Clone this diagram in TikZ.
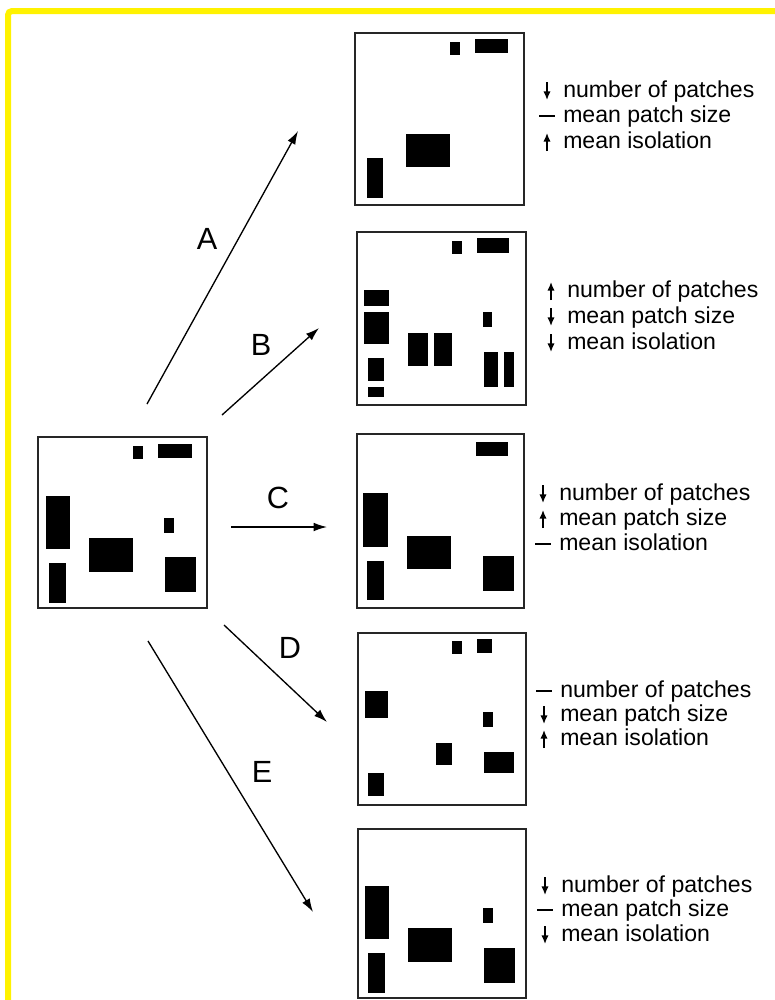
\documentclass[tikz,border=0pt]{standalone}
\usepackage{fontspec}
\setmainfont{Liberation Sans}
\usetikzlibrary{arrows.meta,fit,calc}
\newcommand\mkdown[1]{\draw[indarrow] ($(#1.base west)+(-16,-15)$) -- ($(#1.base west)+(-16,3)$);}
\newcommand\mkup[1]{\draw[indarrow] ($(#1.base west)+(-16,3)$) -- ($(#1.base west)+(-16,-15)$);}
\newcommand\mkdash[1]{\draw[inddash] ($(#1.base west)+(-24,-6)$) -- ($(#1.base west)+(-8,-6)$);}
\begin{document}
\begin{tikzpicture}[x=0.75pt,y=-0.75pt,
  panel/.style={draw=black!85, line width=1.2pt, inner sep=0pt},
  conn/.style={line width=1pt, -{Latex[length=10pt,width=6.5pt]}},
  lbl/.style={font=\fontsize{23}{27}\selectfont, inner sep=0pt},
  stat/.style={font=\fontsize{17.3}{20}\selectfont, anchor=base west, inner sep=0pt},
  indarrow/.style={line width=1.1pt, -{Latex[length=6.5pt,width=5.5pt]}},
  inddash/.style={line width=1.1pt}]
\useasboundingbox (0,0) rectangle (775,1000);
\fill[white] (0,0) rectangle (775,1000);
\begin{scope}
\clip (0,0) rectangle (775,1000);
\draw[yellow, line width=4.5pt, rounded corners=3pt] (8,1010) -- (8,11) -- (790,11);
\end{scope}

% panels
\node[panel, fit={(38,437) (207,608)}] (orig) {};
\node[panel, fit={(355,33) (524,205)}] (pA) {};
\node[panel, fit={(357,232) (526,405)}] (pB) {};
\node[panel, fit={(357,434) (524,608)}] (pC) {};
\node[panel, fit={(358,633) (526,805)}] (pD) {};
\node[panel, fit={(358,829) (526,998)}] (pE) {};

% patches
\foreach \a/\b/\c/\d in {133/446/143/459, 158/444/192/458, 46/496/70/549, 164/518/174/533, 89/538/133/572, 49/563/66/603, 165/557/196/592,
  450/42/460/55, 475/39/508/53, 406/134/450/167, 367/158/383/198,
  452/241/462/254, 477/238/509/253, 364/290/389/306, 364/312/389/344, 368/358/384/381, 368/387/384/397, 408/333/428/366, 434/333/452/366, 483/312/492/327, 484/352/498/387, 504/352/514/387,
  476/442/508/456, 363/493/388/547, 407/536/451/569, 367/561/384/600, 483/556/514/591,
  452/641/462/654, 477/639/492/653, 365/691/388/718, 483/712/493/727, 436/743/452/765, 484/752/514/773, 368/773/384/796,
  365/886/389/939, 483/908/493/923, 408/928/452/962, 368/953/385/993, 484/948/515/983}
  \fill[black] (\a,\b) rectangle (\c,\d);

% connectors
\coordinate (sA) at (147,404); \coordinate (eA) at (298,131);
\coordinate (sB) at (222,415); \coordinate (eB) at (319,328);
\coordinate (sC) at (231,527); \coordinate (eC) at (327,527);
\coordinate (sD) at (224,625); \coordinate (eD) at (327,722);
\coordinate (sE) at (148,641); \coordinate (eE) at (313,912);
\draw[conn] (sA) -- (eA);
\draw[conn] (sB) -- (eB);
\draw[conn] (sC) -- (eC);
\draw[conn] (sD) -- (eD);
\draw[conn] (sE) -- (eE);

\node[lbl] (lA) at (207,239) {A};
\node[lbl] (lB) at (261,345) {B};
\node[lbl] (lC) at (278,498) {C};
\node[lbl] (lD) at (290,648) {D};
\node[lbl] (lE) at (262,772) {E};

% statistics
\node[stat] (a1) at (563,97) {number of patches};
\node[stat] (a2) at (563,122) {mean patch size};
\node[stat] (a3) at (563,148) {mean isolation};
\mkdown{a1} \mkdash{a2} \mkup{a3}

\node[stat] (b1) at (567,297) {number of patches};
\node[stat] (b2) at (567,323) {mean patch size};
\node[stat] (b3) at (567,349) {mean isolation};
\mkup{b1} \mkdown{b2} \mkdown{b3}

\node[stat] (c1) at (559,500) {number of patches};
\node[stat] (c2) at (559,525) {mean patch size};
\node[stat] (c3) at (559,550) {mean isolation};
\mkdown{c1} \mkup{c2} \mkdash{c3}

\node[stat] (d1) at (560,697) {number of patches};
\node[stat] (d2) at (560,721) {mean patch size};
\node[stat] (d3) at (560,745) {mean isolation};
\mkdash{d1} \mkdown{d2} \mkup{d3}

\node[stat] (e1) at (561,892) {number of patches};
\node[stat] (e2) at (561,916) {mean patch size};
\node[stat] (e3) at (561,941) {mean isolation};
\mkdown{e1} \mkdash{e2} \mkdown{e3}
\end{tikzpicture}
\end{document}
